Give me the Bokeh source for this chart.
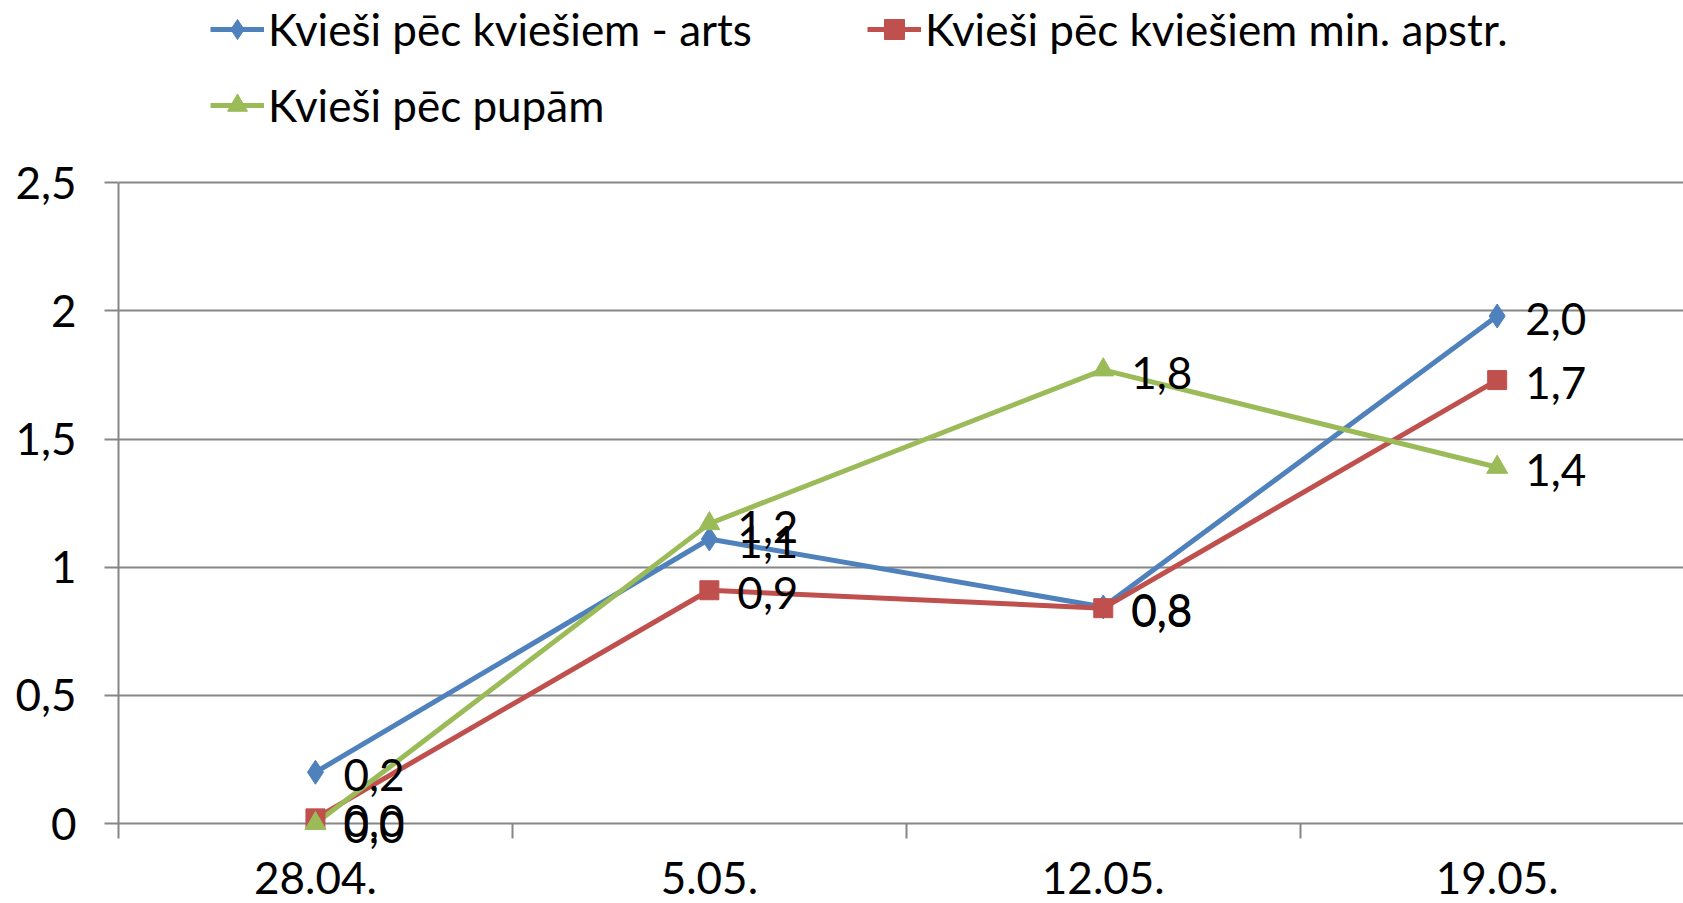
from bokeh.plotting import figure
from bokeh.models import Range1d, FixedTicker, CustomJSTickFormatter, Legend, LegendItem
from bokeh.core.properties import value
from bokeh.embed import file_html
from bokeh.resources import INLINE

# ---- data ----
dates = ["28.04.", "5.05.", "12.05.", "19.05."]
series_names = ["Kvieši pēc kviešiem - arts",
                "Kvieši pēc kviešiem min. apstr.",
                "Kvieši pēc pupām"]
arts = [0.20, 1.11, 0.845, 1.98]
min_apstr = [0.02, 0.91, 0.84, 1.73]
pupam = [0.00, 1.17, 1.77, 1.39]
y_ticks = [0, 0.5, 1, 1.5, 2, 2.5]

FONT = "Lato"
FS = "44px"
GRAY = "#868686"

x = [i + 0.5 for i in range(len(dates))]
bounds = [float(i) for i in range(len(dates))]

# frame spans the whole height above the x axis so the legend (inside the
# frame) is not clipped; the value axis itself only runs 0..2.5
p = figure(width=1683, height=903, output_backend="svg", toolbar_location=None,
           x_range=Range1d(0, 3.973), y_range=Range1d(0, 3.211),
           min_border_left=118, min_border_right=0, min_border_top=0,
           min_border_bottom=80)
p.outline_line_color = None
p.background_fill_color = "white"
p.xgrid.visible = False
p.ygrid.ticker = FixedTicker(ticks=y_ticks)
p.ygrid.grid_line_color = GRAY
p.ygrid.grid_line_width = 2

xa = p.xaxis[0]
xa.ticker = FixedTicker(ticks=x, minor_ticks=bounds)
xa.major_label_overrides = {xi: d for xi, d in zip(x, dates)}
xa.major_tick_out = 0
xa.major_tick_in = 0
xa.minor_tick_out = 15
xa.minor_tick_in = 0
xa.minor_tick_line_color = GRAY
xa.minor_tick_line_width = 2
xa.axis_line_color = GRAY
xa.axis_line_width = 2
xa.major_label_standoff = 23
xa.major_label_text_font = FONT
xa.major_label_text_font_size = FS
xa.major_label_text_color = "black"

ya = p.yaxis[0]
ya.ticker = FixedTicker(ticks=y_ticks)
ya.formatter = CustomJSTickFormatter(code="return String(tick).replace('.', ',')")
ya.major_tick_out = 14
ya.major_tick_in = 0
ya.major_tick_line_color = GRAY
ya.major_tick_line_width = 2
ya.minor_tick_line_color = None
ya.axis_line_color = None
ya.major_label_standoff = 28
ya.major_label_text_font = FONT
ya.major_label_text_font_size = FS
ya.major_label_text_color = "black"

# value-axis line from the lowest to the highest tick
p.segment(x0=[0], y0=[y_ticks[0]], x1=[0], y1=[y_ticks[-1]],
          line_color=GRAY, line_width=2, level="overlay")

colors = ["#4F81BD", "#C0504D", "#9BBB59"]
markers = ["diamond", "square", "triangle"]
sizes = [24, 19, 21]
all_vals = [arts, min_apstr, pupam]

items = []
for name, vals, c, m, s in zip(series_names, all_vals, colors, markers, sizes):
    lr = p.line(x, vals, line_color=c, line_width=5)
    sr = p.scatter(x, vals, marker=m, size=s, fill_color=c, line_color=c,
                   level="overlay")
    items.append(LegendItem(label=name, renderers=[lr, sr]))

for vals in all_vals:
    labels = [f"{v:.1f}".replace(".", ",") for v in vals]
    p.text(x, vals, text=labels, x_offset=28, y_offset=3,
           text_align="left", text_baseline="middle",
           text_font=value(FONT), text_font_size=FS, text_color="black",
           level="overlay")

legend = Legend(items=items, orientation="horizontal", ncols=2,
                location=(92, 692), glyph_width=54, glyph_height=50,
                label_standoff=4, label_width=575, spacing=24,
                padding=0, margin=0,
                border_line_color=None, background_fill_alpha=0,
                label_text_font=FONT, label_text_font_size=FS,
                label_text_color="black")
p.add_layout(legend)

open("out.html", "w").write(file_html(p, INLINE))
